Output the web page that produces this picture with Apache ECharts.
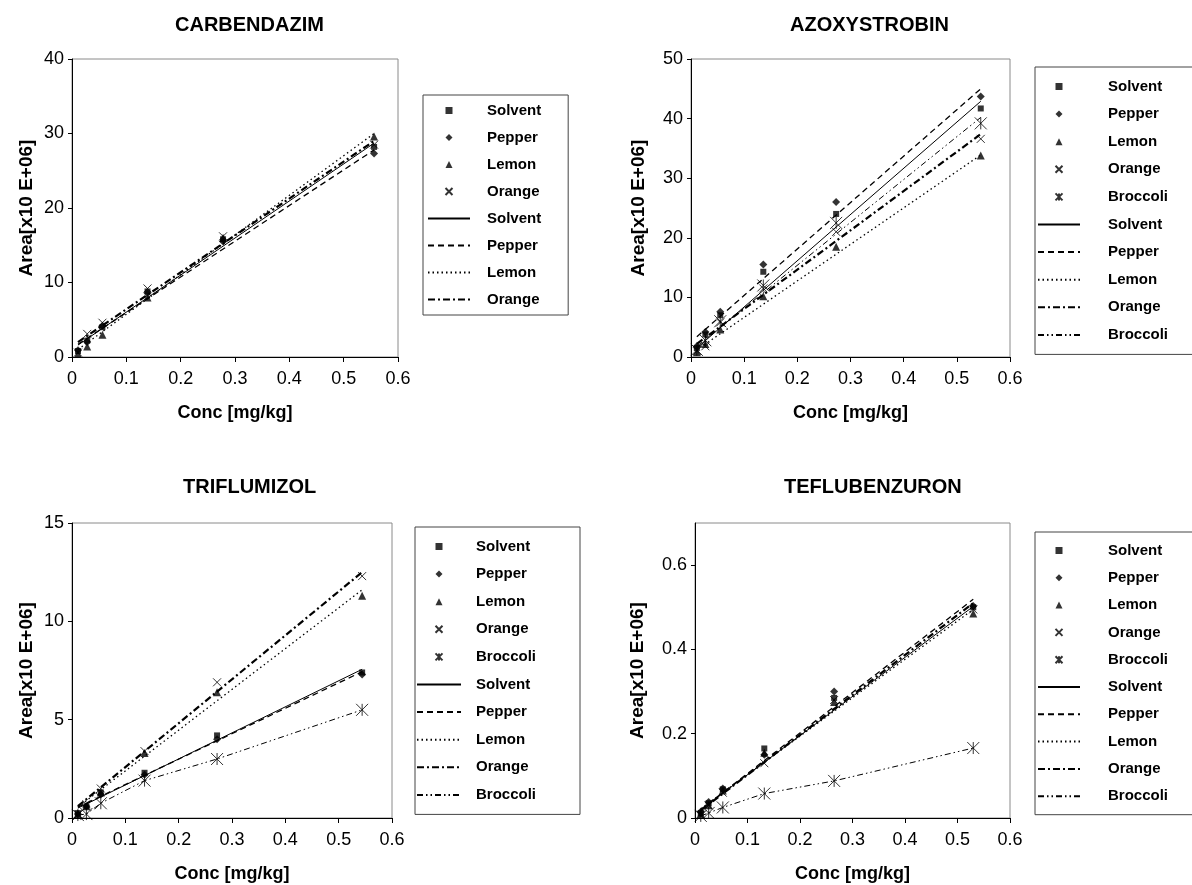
<!DOCTYPE html>
<html>
<head>
    <meta charset="utf-8">
    <title>Calibration curves</title>
    <script src="https://cdn.jsdelivr.net/npm/echarts@6.0.0/dist/echarts.min.js"></script>
    <style>
        body { margin: 0; background: #fff; }
        #chart { width: 1192px; height: 885px; }
    </style>
</head>
<body>
<div id="chart"></div>
<script type="text/javascript">
    // ---- data ----
    // CARBENDAZIM
    var carbX = [0.011, 0.028, 0.056, 0.139, 0.278, 0.556];
    var carbSolvent = [0.8, 2.2, 4.0, 8.8, 15.8, 28.2];
    var carbPepper = [0.9, 2.0, 4.2, 8.6, 15.5, 27.3];
    var carbLemon = [0.4, 1.4, 3.0, 8.0, 16.0, 29.6];
    var carbOrange = [0.6, 3.1, 4.6, 9.2, 16.2, 28.5];
    // trend line ends (first and last conc)
    var carbFitX = [0.011, 0.556];
    var carbSolventFit = [1.6, 28.7];
    var carbPepperFit = [1.7, 27.8];
    var carbLemonFit = [1.0, 30.0];
    var carbOrangeFit = [2.0, 29.0];

    // AZOXYSTROBIN
    var azoX = [0.011, 0.027, 0.055, 0.136, 0.273, 0.545];
    var azoSolvent = [1.5, 3.8, 7.0, 14.3, 24.0, 41.7];
    var azoPepper = [1.8, 4.2, 7.6, 15.5, 26.0, 43.7];
    var azoLemon = [0.8, 2.2, 4.6, 10.2, 18.5, 33.8];
    var azoOrange = [1.0, 1.8, 5.8, 11.5, 21.0, 36.6];
    var azoBroccoli = [1.2, 2.8, 6.0, 12.0, 22.5, 39.2];
    var azoFitX = [0.011, 0.545];
    var azoSolventFit = [1.5, 42.9];
    var azoPepperFit = [3.4, 45.0];
    var azoLemonFit = [1.2, 33.9];
    var azoOrangeFit = [2.2, 37.4];
    var azoBroccoliFit = [1.8, 40.2];

    // TRIFLUMIZOL
    var triX = [0.011, 0.027, 0.054, 0.136, 0.272, 0.544];
    var triSolvent = [0.25, 0.6, 1.3, 2.3, 4.2, 7.4];
    var triPepper = [0.2, 0.6, 1.2, 2.2, 4.0, 7.3];
    var triLemon = [0.2, 0.6, 1.3, 3.3, 6.4, 11.3];
    var triOrange = [0.2, 0.7, 1.5, 3.4, 6.9, 12.3];
    var triBroccoli = [0.15, 0.2, 0.75, 1.9, 3.0, 5.5];
    var triFitX = [0.011, 0.544];
    var triSolventFit = [0.5, 7.56];
    var triPepperFit = [0.55, 7.44];
    var triLemonFit = [0.55, 11.6];
    var triOrangeFit = [0.6, 12.5];

    // TEFLUBENZURON
    var tefX = [0.011, 0.026, 0.053, 0.132, 0.265, 0.53];
    var tefSolvent = [0.012, 0.035, 0.068, 0.165, 0.285, 0.50];
    var tefPepper = [0.015, 0.038, 0.07, 0.15, 0.30, 0.503];
    var tefLemon = [0.01, 0.03, 0.065, 0.155, 0.275, 0.485];
    var tefOrange = [0.008, 0.03, 0.06, 0.13, 0.28, 0.495];
    var tefBroccoli = [0.005, 0.012, 0.025, 0.058, 0.088, 0.166];
    var tefFitX = [0.011, 0.53];
    var tefSolventFit = [0.02, 0.502];
    var tefPepperFit = [0.02, 0.519];
    var tefLemonFit = [0.022, 0.495];
    var tefOrangeFit = [0.018, 0.51];
    var tefYTicks = [0, 0.2, 0.4, 0.6];

    var xTitle = 'Conc [mg/kg]';
    var yTitle = 'Area[x10 E+06]';
    var titles = ['CARBENDAZIM', 'AZOXYSTROBIN', 'TRIFLUMIZOL', 'TEFLUBENZURON'];

    var font = "'Liberation Sans', Arial, sans-serif";

    // marker / line look per sample (paths so the legend keeps them square)
    var markers = {
        Solvent: 'path://M0,0L10,0L10,10L0,10Z',
        Pepper: 'path://M5,0L10,5L5,10L0,5Z',
        Lemon: 'path://M5,0L10,10L0,10Z',
        Orange: 'path://M0,0L10,10M10,0L0,10',
        Broccoli: 'path://M0,0L10,10M10,0L0,10M5,0L5,10'
    };
    var markerSize = { Solvent: 6, Pepper: 8, Lemon: 8, Orange: 8, Broccoli: 12 };
    var lines = {
        Solvent: { width: 1, type: 'solid' },
        Pepper: { width: 1.3, type: [6, 4] },
        Lemon: { width: 1.3, type: [1.5, 3] },
        Orange: { width: 2.2, type: [7, 3, 2, 3] },
        Broccoli: { width: 1, type: [6, 3, 1.5, 3, 1.5, 3] }
    };

    function pairs(xs, ys) {
        return xs.map(function (x, i) { return [x, ys[i]]; });
    }

    function scatter(name, idx, xs, ys) {
        var stroked = name === 'Orange' || name === 'Broccoli';
        return {
            name: name,
            type: 'scatter',
            xAxisIndex: idx,
            yAxisIndex: idx,
            symbol: markers[name],
            symbolSize: markerSize[name],
            itemStyle: stroked
                ? { color: 'none', borderColor: '#000', borderWidth: 1 }
                : { color: '#000', borderWidth: 0 },
            z: 3,
            data: pairs(xs, ys)
        };
    }

    function line(name, idx, xs, ys) {
        return {
            name: name + ' fit',
            type: 'line',
            xAxisIndex: idx,
            yAxisIndex: idx,
            symbol: 'none',
            itemStyle: { color: '#000' },
            lineStyle: { color: '#000', width: lines[name].width, type: lines[name].type },
            z: 2,
            data: pairs(xs, ys)
        };
    }

    var grids = [
        { left: 72, top: 59, width: 326, height: 298 },
        { left: 691, top: 59, width: 319, height: 298 },
        { left: 72, top: 523, width: 320, height: 295 },
        { left: 695, top: 523, width: 315, height: 295 }
    ];
    grids.forEach(function (g) {
        g.show = true;
        g.borderColor = '#8a8a8a';
        g.borderWidth = 1;
        g.backgroundColor = 'transparent';
    });

    var titlePos = [[175, 15], [790, 15], [183, 477], [784, 477]];
    var yNameGap = [36, 43, 36, 48];

    function xAxis(idx) {
        return {
            type: 'value', gridIndex: idx, min: 0, max: 0.6, interval: 0.1,
            name: xTitle, nameLocation: 'middle', nameGap: 47,
            nameTextStyle: { fontFamily: font, fontSize: 18, fontWeight: 'bold', color: '#000' },
            axisLine: { show: true, lineStyle: { color: '#000', width: 1 } },
            axisTick: { show: true, length: 5, lineStyle: { color: '#000' } },
            axisLabel: { fontFamily: font, fontSize: 18, color: '#000', margin: 13 },
            splitLine: { show: false }
        };
    }

    function yAxis(idx, max, interval) {
        return {
            type: 'value', gridIndex: idx, min: 0, max: max, interval: interval,
            name: yTitle, nameLocation: 'middle', nameGap: yNameGap[idx], nameRotate: 90,
            nameTextStyle: { fontFamily: font, fontSize: 19, fontWeight: 'bold', color: '#000' },
            axisLine: { show: true, lineStyle: { color: '#000', width: 1 } },
            axisTick: { show: true, length: 4, lineStyle: { color: '#000' } },
            axisLabel: { fontFamily: font, fontSize: 18, color: '#000', margin: 8 },
            splitLine: { show: false }
        };
    }

    var y4 = yAxis(3, 0.7, null);
    delete y4.interval;
    y4.axisLabel.customValues = tefYTicks;
    y4.axisTick.customValues = tefYTicks;

    function legend(left, top, names, pad, gap, textPad, iconW) {
        var data = [];
        names.forEach(function (n) { data.push({ name: n }); });
        // line entries: hide the little symbol ECharts puts in the middle
        names.forEach(function (n) {
            data.push({ name: n + ' fit', itemStyle: { color: 'rgba(0,0,0,0)', borderWidth: 0 } });
        });
        return {
            orient: 'vertical', left: left, top: top,
            itemWidth: iconW, itemHeight: 7, itemGap: gap,
            padding: pad,
            borderColor: '#444', borderWidth: 1,
            selectedMode: false,
            textStyle: { fontFamily: font, fontSize: 15, fontWeight: 'bold', color: '#000', padding: [0, 0, 0, textPad] },
            formatter: function (name) { return name.replace(' fit', ''); },
            data: data
        };
    }

    var four = ['Solvent', 'Pepper', 'Lemon', 'Orange'];
    var five = ['Solvent', 'Pepper', 'Lemon', 'Orange', 'Broccoli'];

    var series = [
        scatter('Solvent', 0, carbX, carbSolvent),
        scatter('Pepper', 0, carbX, carbPepper),
        scatter('Lemon', 0, carbX, carbLemon),
        scatter('Orange', 0, carbX, carbOrange),
        line('Solvent', 0, carbFitX, carbSolventFit),
        line('Pepper', 0, carbFitX, carbPepperFit),
        line('Lemon', 0, carbFitX, carbLemonFit),
        line('Orange', 0, carbFitX, carbOrangeFit),

        scatter('Solvent', 1, azoX, azoSolvent),
        scatter('Pepper', 1, azoX, azoPepper),
        scatter('Lemon', 1, azoX, azoLemon),
        scatter('Orange', 1, azoX, azoOrange),
        scatter('Broccoli', 1, azoX, azoBroccoli),
        line('Solvent', 1, azoFitX, azoSolventFit),
        line('Pepper', 1, azoFitX, azoPepperFit),
        line('Lemon', 1, azoFitX, azoLemonFit),
        line('Orange', 1, azoFitX, azoOrangeFit),
        line('Broccoli', 1, azoFitX, azoBroccoliFit),

        scatter('Solvent', 2, triX, triSolvent),
        scatter('Pepper', 2, triX, triPepper),
        scatter('Lemon', 2, triX, triLemon),
        scatter('Orange', 2, triX, triOrange),
        scatter('Broccoli', 2, triX, triBroccoli),
        line('Solvent', 2, triFitX, triSolventFit),
        line('Pepper', 2, triFitX, triPepperFit),
        line('Lemon', 2, triFitX, triLemonFit),
        line('Orange', 2, triFitX, triOrangeFit),
        // broccoli is joined point to point here
        line('Broccoli', 2, triX, triBroccoli),

        scatter('Solvent', 3, tefX, tefSolvent),
        scatter('Pepper', 3, tefX, tefPepper),
        scatter('Lemon', 3, tefX, tefLemon),
        scatter('Orange', 3, tefX, tefOrange),
        scatter('Broccoli', 3, tefX, tefBroccoli),
        line('Solvent', 3, tefFitX, tefSolventFit),
        line('Pepper', 3, tefFitX, tefPepperFit),
        line('Lemon', 3, tefFitX, tefLemonFit),
        line('Orange', 3, tefFitX, tefOrangeFit),
        line('Broccoli', 3, tefX, tefBroccoli)
    ];

    var myChart = echarts.init(document.getElementById('chart'), null, { renderer: 'canvas' });
    myChart.setOption({
        animation: false,
        backgroundColor: '#fff',
        title: titles.map(function (t, i) {
            return {
                text: t, left: titlePos[i][0], top: titlePos[i][1], padding: 0,
                textStyle: { fontFamily: font, fontSize: 20, fontWeight: 'bold', color: '#000' }
            };
        }),
        grid: grids,
        xAxis: [xAxis(0), xAxis(1), xAxis(2), xAxis(3)],
        yAxis: [yAxis(0, 40, 10), yAxis(1, 50, 10), yAxis(2, 15, 5), y4],
        legend: [
            legend(423, 95, four, [8, 27, 8, 4], 12, 12, 42),
            legend(1035, 67, five, [12, 60, 12, 2], 12.6, 23, 42),
            legend(415, 527, five, [12, 44, 12, 1], 12.6, 10, 44),
            legend(1035, 532, five, [11, 60, 11, 2], 12.3, 23, 42)
        ],
        series: series
    });
</script>
</body>
</html>
